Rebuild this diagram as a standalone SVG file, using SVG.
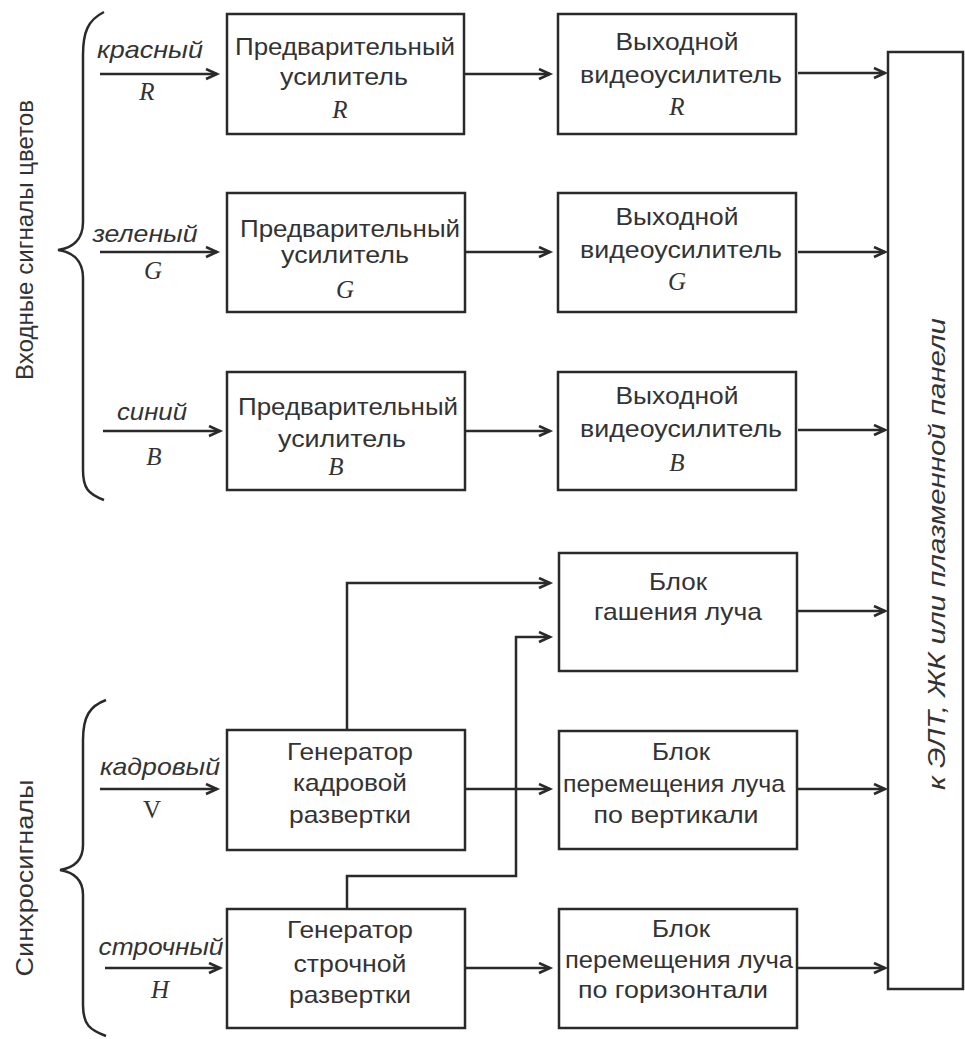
<svg xmlns="http://www.w3.org/2000/svg" width="965" height="1039" viewBox="0 0 965 1039">
<style>
.box{fill:#fff;stroke:#2a2a2a;stroke-width:2.5}
.ln{fill:none;stroke:#2a2a2a;stroke-width:2.5}
.t{font-family:"Liberation Sans",Arial,sans-serif;font-size:24px;fill:#333;text-anchor:middle}
.it{font-family:"Liberation Sans",Arial,sans-serif;font-size:24px;font-style:italic;fill:#333;text-anchor:middle}
.s{font-family:"Liberation Serif","Times New Roman",serif;font-size:25px;font-style:italic;fill:#333;text-anchor:middle}
.su{font-family:"Liberation Serif","Times New Roman",serif;font-size:25px;fill:#333;text-anchor:middle}
</style>
<defs>
<marker id="ah" markerUnits="userSpaceOnUse" markerWidth="16" markerHeight="14" refX="12" refY="6" orient="auto">
<path d="M1,1 L12,6 L1,11" fill="none" stroke="#2a2a2a" stroke-width="2.6"/>
</marker>
</defs>
<rect width="965" height="1039" fill="#fff"/>

<g id="brace-top">
<path class="ln" d="M104,12 C88,20 83,32 83,55 L83,222 C83,240 72,248 58,250 C72,252 83,260 83,278 L83,470 C83,488 88,494 104,500"/>
<text class="t" transform="translate(33,240) rotate(-90)" textLength="280" lengthAdjust="spacingAndGlyphs">Входные сигналы цветов</text>
</g>
<g id="brace-bottom">
<path class="ln" d="M106,700 C90,706 83,716 83,740 L83,845 C83,862 72,868 60,870 C72,872 83,878 83,895 L83,1005 C83,1025 90,1030 106,1036"/>
<text class="t" transform="translate(33,878) rotate(-90)" textLength="197" lengthAdjust="spacingAndGlyphs">Синхросигналы</text>
</g>

<g id="connectors">
<line class="ln" x1="100" y1="74" x2="217" y2="74" marker-end="url(#ah)"/>
<line class="ln" x1="100" y1="252" x2="217" y2="252" marker-end="url(#ah)"/>
<line class="ln" x1="103" y1="431" x2="220" y2="431" marker-end="url(#ah)"/>
<line class="ln" x1="100" y1="789" x2="217" y2="789" marker-end="url(#ah)"/>
<line class="ln" x1="105" y1="968" x2="220" y2="968" marker-end="url(#ah)"/>

<line class="ln" x1="464" y1="74" x2="550" y2="74" marker-end="url(#ah)"/>
<line class="ln" x1="464" y1="252" x2="550" y2="252" marker-end="url(#ah)"/>
<line class="ln" x1="464" y1="431" x2="550" y2="431" marker-end="url(#ah)"/>
<line class="ln" x1="465" y1="789" x2="550" y2="789" marker-end="url(#ah)"/>
<line class="ln" x1="465" y1="968" x2="550" y2="968" marker-end="url(#ah)"/>

<polyline class="ln" points="347,730 347,583 550,583" marker-end="url(#ah)"/>
<polyline class="ln" points="347,909 347,876 516,876 516,637 550,637" marker-end="url(#ah)"/>

<line class="ln" x1="798" y1="73" x2="885" y2="73" marker-end="url(#ah)"/>
<line class="ln" x1="798" y1="252" x2="885" y2="252" marker-end="url(#ah)"/>
<line class="ln" x1="798" y1="430" x2="885" y2="430" marker-end="url(#ah)"/>
<line class="ln" x1="798" y1="611" x2="885" y2="611" marker-end="url(#ah)"/>
<line class="ln" x1="798" y1="789" x2="885" y2="789" marker-end="url(#ah)"/>
<line class="ln" x1="798" y1="968" x2="885" y2="968" marker-end="url(#ah)"/>
</g>

<g id="labels">
<text class="it" x="150" y="58" textLength="106" lengthAdjust="spacingAndGlyphs">красный</text>
<text class="s" x="147" y="100">R</text>
<text class="it" x="145" y="242" textLength="105" lengthAdjust="spacingAndGlyphs">зеленый</text>
<text class="s" x="153" y="279">G</text>
<text class="it" x="152" y="420" textLength="70" lengthAdjust="spacingAndGlyphs">синий</text>
<text class="s" x="154" y="465">B</text>
<text class="it" x="160" y="775" textLength="120" lengthAdjust="spacingAndGlyphs">кадровый</text>
<text class="su" x="152" y="818">V</text>
<text class="it" x="161" y="955" textLength="125" lengthAdjust="spacingAndGlyphs">строчный</text>
<text class="s" x="160" y="998">H</text>
</g>

<g id="pre-r">
<rect class="box" x="227" y="14" width="237" height="120"/>
<text class="t" x="345" y="55" textLength="220" lengthAdjust="spacingAndGlyphs">Предварительный</text>
<text class="t" x="344" y="85" textLength="128" lengthAdjust="spacingAndGlyphs">усилитель</text>
<text class="s" x="340" y="118">R</text>
</g>
<g id="pre-g">
<rect class="box" x="227" y="193" width="238" height="119"/>
<text class="t" x="350" y="237" textLength="220" lengthAdjust="spacingAndGlyphs">Предварительный</text>
<text class="t" x="345" y="263" textLength="128" lengthAdjust="spacingAndGlyphs">усилитель</text>
<text class="s" x="345" y="298">G</text>
</g>
<g id="pre-b">
<rect class="box" x="227" y="372" width="238" height="118"/>
<text class="t" x="348" y="415" textLength="220" lengthAdjust="spacingAndGlyphs">Предварительный</text>
<text class="t" x="342" y="447" textLength="128" lengthAdjust="spacingAndGlyphs">усилитель</text>
<text class="s" x="336" y="475">B</text>
</g>

<g id="out-r">
<rect class="box" x="558" y="14" width="238" height="120"/>
<text class="t" x="677" y="50" textLength="123" lengthAdjust="spacingAndGlyphs">Выходной</text>
<text class="t" x="681" y="83" textLength="202" lengthAdjust="spacingAndGlyphs">видеоусилитель</text>
<text class="s" x="677" y="115">R</text>
</g>
<g id="out-g">
<rect class="box" x="558" y="193" width="238" height="119"/>
<text class="t" x="677" y="225" textLength="123" lengthAdjust="spacingAndGlyphs">Выходной</text>
<text class="t" x="681" y="258" textLength="202" lengthAdjust="spacingAndGlyphs">видеоусилитель</text>
<text class="s" x="677" y="290">G</text>
</g>
<g id="out-b">
<rect class="box" x="558" y="372" width="238" height="118"/>
<text class="t" x="677" y="404" textLength="123" lengthAdjust="spacingAndGlyphs">Выходной</text>
<text class="t" x="681" y="437" textLength="202" lengthAdjust="spacingAndGlyphs">видеоусилитель</text>
<text class="s" x="677" y="471">B</text>
</g>

<g id="blank">
<rect class="box" x="559" y="553" width="238" height="118"/>
<text class="t" x="678" y="590" textLength="58" lengthAdjust="spacingAndGlyphs">Блок</text>
<text class="t" x="678" y="620" textLength="168" lengthAdjust="spacingAndGlyphs">гашения луча</text>
</g>

<g id="gen-v">
<rect class="box" x="227" y="730" width="238" height="120"/>
<text class="t" x="350" y="760" textLength="126" lengthAdjust="spacingAndGlyphs">Генератор</text>
<text class="t" x="350" y="791" textLength="114" lengthAdjust="spacingAndGlyphs">кадровой</text>
<text class="t" x="350" y="823" textLength="122" lengthAdjust="spacingAndGlyphs">развертки</text>
</g>
<g id="gen-h">
<rect class="box" x="227" y="909" width="238" height="119"/>
<text class="t" x="350" y="938" textLength="126" lengthAdjust="spacingAndGlyphs">Генератор</text>
<text class="t" x="350" y="972" textLength="113" lengthAdjust="spacingAndGlyphs">строчной</text>
<text class="t" x="350" y="1003" textLength="122" lengthAdjust="spacingAndGlyphs">развертки</text>
</g>

<g id="move-v">
<rect class="box" x="559" y="731" width="238" height="118"/>
<text class="t" x="681" y="760" textLength="58" lengthAdjust="spacingAndGlyphs">Блок</text>
<text class="t" x="674" y="792" textLength="222" lengthAdjust="spacingAndGlyphs">перемещения луча</text>
<text class="t" x="676" y="823" textLength="165" lengthAdjust="spacingAndGlyphs">по вертикали</text>
</g>
<g id="move-h">
<rect class="box" x="559" y="909" width="238" height="119"/>
<text class="t" x="681" y="937" textLength="58" lengthAdjust="spacingAndGlyphs">Блок</text>
<text class="t" x="679" y="968" textLength="228" lengthAdjust="spacingAndGlyphs">перемещения луча</text>
<text class="t" x="673" y="998" textLength="190" lengthAdjust="spacingAndGlyphs">по горизонтали</text>
</g>

<g id="panel">
<rect class="box" x="888" y="52" width="75" height="937"/>
<text class="it" transform="translate(945,554) rotate(-90)" textLength="472" lengthAdjust="spacingAndGlyphs">к ЭЛТ, ЖК или плазменной панели</text>
</g>
</svg>
